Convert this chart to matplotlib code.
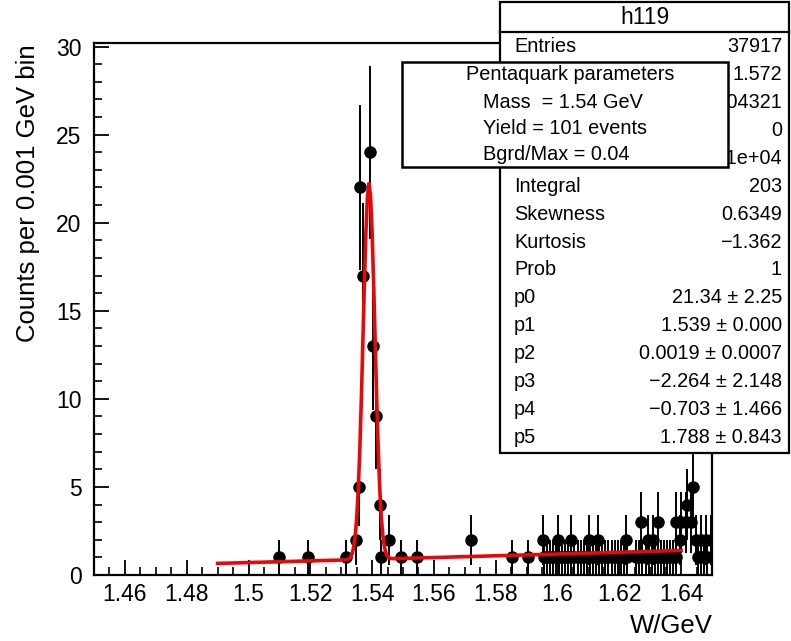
import numpy as np
import matplotlib
matplotlib.use("Agg")
import matplotlib.pyplot as plt
from matplotlib.patches import Rectangle
from matplotlib.ticker import MultipleLocator, FuncFormatter

plt.rcParams['font.family'] = ['Liberation Sans', 'DejaVu Sans']

# W (GeV) and counts per 0.001 GeV bin: signal region and low-mass side
w_peak = [1.5099, 1.5193, 1.5316, 1.5348, 1.5356, 1.5362, 1.5372, 1.5394,
          1.5403, 1.5413, 1.5426, 1.5429, 1.5455, 1.5494, 1.5546, 1.5720]
n_peak = [1, 1, 1, 2, 5, 22, 17, 24, 13, 9, 4, 1, 2, 1, 1, 2]

# high-mass tail
w_tail_1 = [1.5852, 1.5904, 1.5955, 1.5965, 1.5975, 1.5985, 1.5995, 1.6005,
            1.6015, 1.6025, 1.6035, 1.6045, 1.6055, 1.6065, 1.6075, 1.6085,
            1.6095, 1.6105, 1.6115, 1.6125, 1.6135, 1.6145, 1.6155, 1.6165,
            1.6175, 1.6185, 1.6195, 1.6205, 1.6215, 1.6225, 1.6255, 1.6265,
            1.6275, 1.6285, 1.6295, 1.6305, 1.6315, 1.6325, 1.6335, 1.6345,
            1.6355, 1.6365, 1.6375, 1.6385, 1.6455, 1.6465, 1.6475, 1.6485]
w_tail_2 = [1.5952, 1.6003, 1.6044, 1.6103, 1.6130, 1.6222, 1.6292, 1.6308,
            1.6395, 1.6449, 1.6465, 1.6481, 1.6497]
w_tail_3 = [1.6271, 1.6325, 1.6384, 1.6400, 1.6416, 1.6432]
w_tail_4 = [1.6419]
w_tail_5 = [1.6438]

# Gaussian + quadratic background fit: p0..p5 and their errors
fit_par = [21.34, 1.539, 0.0019, -2.264, -0.703, 1.788]
fit_err = [2.25, 0.000, 0.0007, 2.148, 1.466, 0.843]
fit_fmt = ["{:.2f}", "{:.3f}", "{:.4f}", "{:.3f}", "{:.3f}", "{:.3f}"]
fit_range = (1.49, 1.64)

# statistics rows; the ones without a label sit under the summary box
stat_labels = ["Entries", "", "", "", "", "Integral",
               "Skewness", "Kurtosis", "Prob"]
stat_values = ["37917", "1.572", "0.04321", "0", "3.771e+04", "203",
               "0.6349", "-1.362", "1"]

penta_title = "Pentaquark parameters"
penta_lines = ["Mass  = 1.54 GeV", "Yield = 101 events", "Bgrd/Max = 0.04"]

x_ticks = [1.46, 1.48, 1.50, 1.52, 1.54, 1.56, 1.58, 1.60, 1.62, 1.64]

W, H = 791, 641
fig = plt.figure(figsize=(W / 100, H / 100), dpi=100)
fig.patch.set_facecolor('white')


def fx(px):
    return px / W


def fy(py):
    return 1 - py / H


ax = fig.add_axes([fx(94), fy(575), (712 - 94) / W, (575 - 43) / H])

w_all = np.array(w_peak + w_tail_1 + w_tail_2 + w_tail_3 + w_tail_4 + w_tail_5)
n_all = np.array(n_peak + [1] * len(w_tail_1) + [2] * len(w_tail_2)
                 + [3] * len(w_tail_3) + [4] * len(w_tail_4) + [5] * len(w_tail_5),
                 dtype=float)
ax.errorbar(w_all, n_all, yerr=np.sqrt(n_all), fmt='o', color='black',
            ms=8, elinewidth=1.4, capsize=0, zorder=2)


def model(x, p):
    return (p[0] * np.exp(-0.5 * ((x - p[1]) / p[2]) ** 2)
            + p[3] + p[4] * x + p[5] * x ** 2)


xf = np.linspace(fit_range[0], fit_range[1], 301)
ax.plot(xf, model(xf, fit_par), color='#e8080a', lw=2.6, zorder=3)

ax.set_xlim(1.45, 1.65)
ax.set_ylim(0, 30.2)
ax.set_xticks(x_ticks)
ax.xaxis.set_major_formatter(FuncFormatter(lambda v, _: "%g" % round(v, 4)))
ax.xaxis.set_minor_locator(MultipleLocator(0.005))
ax.yaxis.set_major_locator(MultipleLocator(5))
ax.yaxis.set_minor_locator(MultipleLocator(1))
ax.tick_params(which='major', direction='in', length=11, width=1.3,
               labelsize=16.5, top=False, right=False)
ax.tick_params(axis='y', which='major', pad=9)
ax.tick_params(axis='x', which='major', pad=6)
ax.tick_params(which='minor', direction='in', length=5.5, width=1.2,
               top=False, right=False)
for s in ax.spines.values():
    s.set_linewidth(1.6)

fig.text(fx(28), fy(44), "Counts per 0.001 GeV bin", rotation=90,
         ha='center', va='top', fontsize=18.5)
fig.text(fx(713), fy(626), "W/GeV", ha='right', va='center', fontsize=18.5)

# statistics box
fig.add_artist(Rectangle((fx(500), fy(453)), (789 - 500) / W, (453 - 2) / H,
                         transform=fig.transFigure, facecolor='white',
                         edgecolor='black', lw=1.6, zorder=5))
fig.add_artist(plt.Line2D([fx(500), fx(789)], [fy(32), fy(32)],
                          transform=fig.transFigure, color='black', lw=1.6,
                          zorder=6))
fig.text(fx(645), fy(17), "h119", ha='center', va='center', fontsize=16.5,
         zorder=7)

rows_l = list(stat_labels) + ["p%d" % i for i in range(6)]
rows_v = list(stat_values) + [
    (fmt.format(v) + " \u00b1 " + fmt.format(e))
    for fmt, v, e in zip(fit_fmt, fit_par, fit_err)]
y0, dy = 47, 27.86
for i, (lab, val) in enumerate(zip(rows_l, rows_v)):
    yy = y0 + i * dy
    if lab:
        fig.text(fx(514), fy(yy), lab, ha='left', va='center', fontsize=14.3,
                 zorder=7)
    fig.text(fx(782), fy(yy), val.replace('-', '\u2212'), ha='right',
             va='center', fontsize=14.3, zorder=7)

# pentaquark summary box
fig.add_artist(Rectangle((fx(402), fy(167)), (728 - 402) / W, (167 - 62) / H,
                         transform=fig.transFigure, facecolor='white',
                         edgecolor='black', lw=1.8, zorder=8))
fig.text(fx(570), fy(75), penta_title, ha='center', va='center',
         fontsize=14.3, zorder=9)
for i, line in enumerate(penta_lines):
    fig.text(fx(483), fy(102 + i * 26.5), line, ha='left', va='center',
             fontsize=14.3, zorder=9)

fig.savefig("out.png", dpi=100, facecolor='white')
